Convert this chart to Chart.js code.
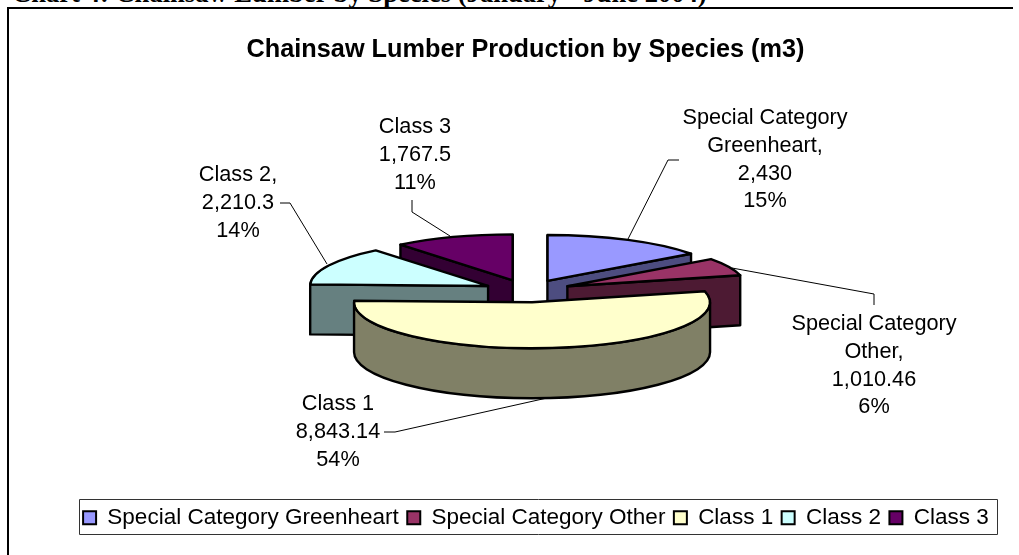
<!DOCTYPE html>
<html>
<head>
<meta charset="utf-8">
<title>Chainsaw Lumber Production by Species</title>
<script src="https://cdn.jsdelivr.net/npm/chart.js@4"></script>
<style>
    html, body { margin: 0; padding: 0; background: #fff; overflow: hidden; }
    #page { position: relative; width: 1019px; height: 555px; overflow: hidden; }
    #heading {
        position: absolute; left: 12px; top: -22px; white-space: nowrap;
        font: bold 26.6px "Liberation Serif", serif; color: #000;
    }
    #frame {
        position: absolute; left: 7px; top: 7px; width: 1006px; height: 560px;
        border-top: 2px solid #000; border-left: 2px solid #000; box-sizing: border-box;
    }
    canvas { position: absolute; left: 0; top: 0; }
</style>
</head>
<body>
<div id="page">
    <div id="heading">Chart 4: Chainsaw Lumber by Species (January - June 2004)</div>
    <div id="frame"></div>
    <canvas id="pieChart" width="1019" height="555"></canvas>
</div>
<script>
const species = ["Special Category Greenheart", "Special Category Other", "Class 1", "Class 2", "Class 3"];
const volumes = [2430, 1010.46, 8843.14, 2210.3, 1767.5];
const topColors = ["#9999FF", "#993366", "#FFFFCC", "#CCFFFF", "#660066"];
const sideColors = ["#4D4D80", "#4D1A33", "#808066", "#668080", "#330033"];
const labelLines = [
    ["Special Category", "Greenheart,", "2,430", "15%"],
    ["Special Category", "Other,", "1,010.46", "6%"],
    ["Class 1", "8,843.14", "54%"],
    ["Class 2,", "2,210.3", "14%"],
    ["Class 3", "1,767.5", "11%"]
];

// pie look: flattened circle, pulled apart slices, thick side wall
const PIE_X = 527.5, PIE_Y = 291, RADIUS = 178, SQUASH = 0.258, DEPTH = 50, EXPLODE = 44;
const EDGE_WIDTH = 2.4;
const drawOrder = [0, 4, 3, 1, 2];

// where each data label sits, and its leader line
const labelSpots = [
    { x: 765, y: 118, leader: [[679, 160], [668, 160], [628, 239]] },
    { x: 874, y: 324, leader: [[732, 268], [874, 294], [874, 305]] },
    { x: 338, y: 404, leader: [[384, 432], [395, 432], [547, 398]] },
    { x: 238, y: 175, leader: [[280, 203], [290, 203], [327, 264]] },
    { x: 415, y: 127, leader: [[412, 200], [412, 212], [450, 236]] }
];

function sliceCentre(arc) {
    const mid = (arc.startAngle + arc.endAngle) / 2;
    return [PIE_X + Math.cos(mid) * EXPLODE, PIE_Y + Math.sin(mid) * EXPLODE * SQUASH];
}

function rimPoint(c, angle) {
    return [c[0] + Math.cos(angle) * RADIUS, c[1] + Math.sin(angle) * RADIUS * SQUASH];
}

function paintPath(ctx, fill) {
    ctx.fillStyle = fill;
    ctx.strokeStyle = "#000";
    ctx.lineWidth = EDGE_WIDTH;
    ctx.lineJoin = "round";
    ctx.fill();
    ctx.stroke();
}

function drawCutWall(ctx, c, angle, fill) {
    const p = rimPoint(c, angle);
    ctx.beginPath();
    ctx.moveTo(c[0], c[1]);
    ctx.lineTo(p[0], p[1]);
    ctx.lineTo(p[0], p[1] + DEPTH);
    ctx.lineTo(c[0], c[1] + DEPTH);
    ctx.closePath();
    paintPath(ctx, fill);
}

function drawSliceSides(ctx, arc, fill) {
    const c = sliceCentre(arc);
    const a0 = arc.startAngle, a1 = arc.endAngle;
    if (Math.cos(a0) < -0.001) drawCutWall(ctx, c, a0, fill);
    if (Math.cos(a1) > 0.001) drawCutWall(ctx, c, a1, fill);

    // round outer wall, only the part that faces us
    const from = Math.max(a0, 0), to = Math.min(a1, Math.PI);
    if (to > from) {
        ctx.beginPath();
        ctx.ellipse(c[0], c[1], RADIUS, RADIUS * SQUASH, 0, from, to);
        ctx.ellipse(c[0], c[1] + DEPTH, RADIUS, RADIUS * SQUASH, 0, to, from, true);
        ctx.closePath();
        paintPath(ctx, fill);
    }
}

// stroked outside the squash so the line keeps its width all round
function drawSliceOutline(ctx, arc) {
    const c = sliceCentre(arc);
    ctx.beginPath();
    ctx.moveTo(c[0], c[1]);
    ctx.ellipse(c[0], c[1], RADIUS, RADIUS * SQUASH, 0, arc.startAngle, arc.endAngle);
    ctx.closePath();
    ctx.strokeStyle = "#000";
    ctx.lineWidth = EDGE_WIDTH;
    ctx.lineJoin = "round";
    ctx.stroke();
}

const pie3d = {
    id: "pie3d",
    afterLayout(chart) {
        // legend sits right of the title centre in the original
        chart.legend.left += 10.4;
        chart.legend.right += 10.4;
    },
    beforeDatasetDraw(chart) {
        const ctx = chart.ctx;
        const arcs = chart.getDatasetMeta(0).data;
        drawOrder.forEach(i => {
            const arc = arcs[i];
            const c = sliceCentre(arc);
            drawSliceSides(ctx, arc, sideColors[i]);
            ctx.save();
            ctx.translate(c[0], c[1]);
            ctx.scale(1, SQUASH);
            ctx.translate(-arc.x, -arc.y);
            arc.draw(ctx);
            ctx.restore();
            drawSliceOutline(ctx, arc);
        });
        return false;
    },
    afterDatasetsDraw(chart) {
        const ctx = chart.ctx;
        ctx.save();
        ctx.font = '21.7px "Liberation Sans"';
        ctx.fillStyle = "#000";
        ctx.textAlign = "center";
        ctx.textBaseline = "middle";
        labelSpots.forEach((spot, i) => {
            labelLines[i].forEach((line, n) => ctx.fillText(line, spot.x, spot.y + n * 27.8));
            ctx.beginPath();
            spot.leader.forEach((p, n) => n ? ctx.lineTo(p[0], p[1]) : ctx.moveTo(p[0], p[1]));
            ctx.strokeStyle = "#000";
            ctx.lineWidth = 1;
            ctx.stroke();
        });
        ctx.restore();
    },
    afterDraw(chart) {
        const ctx = chart.ctx;
        ctx.save();
        ctx.strokeStyle = "#333";
        ctx.lineWidth = 1;
        ctx.strokeRect(79.5, 499.5, 918, 35);
        ctx.restore();
    }
};

new Chart(document.getElementById("pieChart"), {
    type: "pie",
    data: {
        labels: species,
        datasets: [{
            data: volumes,
            backgroundColor: topColors,
            borderColor: "#000",
            borderWidth: 2
        }]
    },
    options: {
        responsive: false,
        animation: false,
        radius: RADIUS,
        layout: { padding: { left: 32, right: 0, top: 0, bottom: 16 } },
        plugins: {
            tooltip: { enabled: false },
            title: {
                display: true,
                text: "Chainsaw Lumber Production by Species (m3)",
                color: "#000",
                font: { family: "Liberation Sans", size: 25.3, weight: "bold" },
                padding: { top: 35, bottom: 0 }
            },
            legend: {
                position: "bottom",
                labels: {
                    color: "#000",
                    boxWidth: 13,
                    boxHeight: 13,
                    padding: 8.5,
                    font: { family: "Liberation Sans", size: 22.5 }
                }
            }
        }
    },
    plugins: [pie3d]
});
</script>
</body>
</html>
